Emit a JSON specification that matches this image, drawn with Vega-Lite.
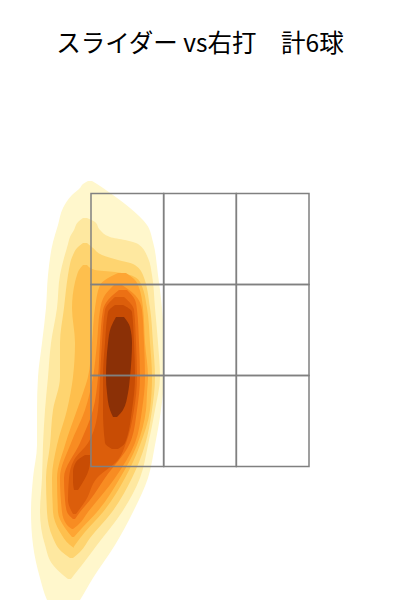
{
  "$schema": "https://vega.github.io/schema/vega-lite/v6.json",
  "width": 400,
  "height": 600,
  "autosize": {"type": "none"},
  "padding": 0,
  "background": "white",
  "config": {"view": {"stroke": null}},
  "title": {
    "text": "スライダー vs右打　計6球",
    "font": "Noto Sans CJK JP",
    "fontSize": 24.5,
    "fontWeight": "normal",
    "color": "#000000",
    "anchor": "middle",
    "frame": "group",
    "baseline": "middle",
    "offset": -43,
    "dy": 26
  },
  "datasets": {
    "density": [
      {"level":"L1","part":"a","y":83.8,"xl":-22.4,"xr":-21.6},
      {"level":"L1","part":"a","y":83.2,"xl":-23.4,"xr":-20.6},
      {"level":"L1","part":"a","y":82.4,"xl":-24,"xr":-19.4},
      {"level":"L1","part":"a","y":81,"xl":-25.6,"xr":-17.4},
      {"level":"L1","part":"a","y":78.4,"xl":-27.4,"xr":-14},
      {"level":"L1","part":"a","y":75,"xl":-28.4,"xr":-10.6},
      {"level":"L1","part":"a","y":71.6,"xl":-29.4,"xr":-9.4},
      {"level":"L1","part":"a","y":65,"xl":-30.4,"xr":-8.4},
      {"level":"L1","part":"a","y":58.4,"xl":-30.8,"xr":-7.6},
      {"level":"L1","part":"a","y":51.4,"xl":-31.6,"xr":-7.2},
      {"level":"L1","part":"a","y":44.6,"xl":-32.4,"xr":-7.2},
      {"level":"L1","part":"a","y":38,"xl":-32.6,"xr":-7.8},
      {"level":"L1","part":"a","y":31,"xl":-32.6,"xr":-9},
      {"level":"L1","part":"a","y":24.4,"xl":-33.4,"xr":-10.4},
      {"level":"L1","part":"a","y":17.6,"xl":-33.8,"xr":-13.4},
      {"level":"L1","part":"a","y":11,"xl":-33.4,"xr":-17},
      {"level":"L1","part":"a","y":4.4,"xl":-32,"xr":-21.4},
      {"level":"L1","part":"a","y":0,"xl":-30.6,"xr":-24},
      {"level":"L1","part":"a","y":-3,"xl":-29,"xr":-26},

      {"level":"L2","part":"a","y":76.4,"xl":-23.4,"xr":-22.6},
      {"level":"L2","part":"a","y":75.6,"xl":-24.4,"xr":-21},
      {"level":"L2","part":"a","y":74,"xl":-25.2,"xr":-20},
      {"level":"L2","part":"a","y":72.6,"xl":-26,"xr":-18},
      {"level":"L2","part":"a","y":72,"xl":-26.2,"xr":-15},
      {"level":"L2","part":"a","y":71.2,"xl":-26.4,"xr":-12.4},
      {"level":"L2","part":"a","y":68.4,"xl":-27.2,"xr":-10.4},
      {"level":"L2","part":"a","y":65,"xl":-28,"xr":-9.6},
      {"level":"L2","part":"a","y":58.4,"xl":-28.6,"xr":-9},
      {"level":"L2","part":"a","y":51.4,"xl":-29.8,"xr":-8.4},
      {"level":"L2","part":"a","y":44.6,"xl":-30.4,"xr":-8},
      {"level":"L2","part":"a","y":38,"xl":-31,"xr":-9},
      {"level":"L2","part":"a","y":31,"xl":-31.4,"xr":-10.4},
      {"level":"L2","part":"a","y":24.4,"xl":-31.6,"xr":-12},
      {"level":"L2","part":"a","y":17.6,"xl":-32,"xr":-15.6},
      {"level":"L2","part":"a","y":11,"xl":-31,"xr":-20.6},
      {"level":"L2","part":"a","y":7,"xl":-29.4,"xr":-23.6},
      {"level":"L2","part":"a","y":5,"xl":-27.4,"xr":-25.2},
      {"level":"L2","part":"a","y":4.2,"xl":-26.4,"xr":-25.8},

      {"level":"L3","part":"a","y":71.4,"xl":-23.4,"xr":-22.6},
      {"level":"L3","part":"a","y":70.4,"xl":-24.6,"xr":-21.4},
      {"level":"L3","part":"a","y":69,"xl":-25.4,"xr":-19.6},
      {"level":"L3","part":"a","y":68,"xl":-25.8,"xr":-16.4},
      {"level":"L3","part":"a","y":67.2,"xl":-26,"xr":-13.4},
      {"level":"L3","part":"a","y":65,"xl":-26.4,"xr":-11.4},
      {"level":"L3","part":"a","y":58.4,"xl":-27.2,"xr":-10},
      {"level":"L3","part":"a","y":51.4,"xl":-28,"xr":-9.4},
      {"level":"L3","part":"a","y":44.6,"xl":-28,"xr":-9},
      {"level":"L3","part":"a","y":38,"xl":-29.4,"xr":-9.6},
      {"level":"L3","part":"a","y":31,"xl":-30,"xr":-11},
      {"level":"L3","part":"a","y":24.4,"xl":-30.8,"xr":-13.6},
      {"level":"L3","part":"a","y":17.6,"xl":-30.6,"xr":-17.6},
      {"level":"L3","part":"a","y":12.4,"xl":-29.4,"xr":-22},
      {"level":"L3","part":"a","y":9.6,"xl":-27.6,"xr":-24},
      {"level":"L3","part":"a","y":8.4,"xl":-26,"xr":-25.4},

      {"level":"L4","part":"a","y":67,"xl":-23.4,"xr":-22.6},
      {"level":"L4","part":"a","y":66,"xl":-24.2,"xr":-21},
      {"level":"L4","part":"a","y":65.6,"xl":-24.4,"xr":-17},
      {"level":"L4","part":"a","y":65,"xl":-24.6,"xr":-14},
      {"level":"L4","part":"a","y":63.6,"xl":-25,"xr":-12},
      {"level":"L4","part":"a","y":58.4,"xl":-25.6,"xr":-10.6},
      {"level":"L4","part":"a","y":51.4,"xl":-25,"xr":-10},
      {"level":"L4","part":"a","y":44.6,"xl":-25.4,"xr":-9.6},
      {"level":"L4","part":"a","y":38,"xl":-26.6,"xr":-10},
      {"level":"L4","part":"a","y":31,"xl":-28.6,"xr":-12},
      {"level":"L4","part":"a","y":24.4,"xl":-29.6,"xr":-15},
      {"level":"L4","part":"a","y":17.6,"xl":-29.4,"xr":-19.4},
      {"level":"L4","part":"a","y":13.6,"xl":-28,"xr":-23},
      {"level":"L4","part":"a","y":11,"xl":-26,"xr":-25},
      {"level":"L4","part":"a","y":10.4,"xl":-25.2,"xr":-25.4},

      {"level":"L5","part":"a","y":65.4,"xl":-16.4,"xr":-14.8},
      {"level":"L5","part":"a","y":64,"xl":-19,"xr":-13},
      {"level":"L5","part":"a","y":63,"xl":-20,"xr":-12.4},
      {"level":"L5","part":"a","y":58.4,"xl":-21,"xr":-11.4},
      {"level":"L5","part":"a","y":51.4,"xl":-21.6,"xr":-11},
      {"level":"L5","part":"a","y":44.6,"xl":-22.4,"xr":-10.4},
      {"level":"L5","part":"a","y":41.4,"xl":-23.4,"xr":-10.6},
      {"level":"L5","part":"a","y":38,"xl":-24.6,"xr":-10.8},
      {"level":"L5","part":"a","y":31,"xl":-27,"xr":-12.6},
      {"level":"L5","part":"a","y":24.4,"xl":-28.6,"xr":-16},
      {"level":"L5","part":"a","y":17.6,"xl":-28.4,"xr":-20.6},
      {"level":"L5","part":"a","y":14.4,"xl":-27,"xr":-23.6},
      {"level":"L5","part":"a","y":12.6,"xl":-25.6,"xr":-25.2},

      {"level":"L6","part":"a","y":63,"xl":-17.2,"xr":-15.6},
      {"level":"L6","part":"a","y":61,"xl":-19,"xr":-13},
      {"level":"L6","part":"a","y":58,"xl":-20,"xr":-11.6},
      {"level":"L6","part":"a","y":51.4,"xl":-20.6,"xr":-11.2},
      {"level":"L6","part":"a","y":44.6,"xl":-21.4,"xr":-11},
      {"level":"L6","part":"a","y":38,"xl":-23,"xr":-11.6},
      {"level":"L6","part":"a","y":31.4,"xl":-25.8,"xr":-13},
      {"level":"L6","part":"a","y":24.4,"xl":-28,"xr":-17},
      {"level":"L6","part":"a","y":17.6,"xl":-27.6,"xr":-22.4},
      {"level":"L6","part":"a","y":15,"xl":-26.6,"xr":-24.4},
      {"level":"L6","part":"a","y":14.2,"xl":-25.6,"xr":-25.4},

      {"level":"L7","part":"a","y":62,"xl":-16.2,"xr":-14.6},
      {"level":"L7","part":"a","y":60,"xl":-18.4,"xr":-13},
      {"level":"L7","part":"a","y":58,"xl":-19.4,"xr":-12.6},
      {"level":"L7","part":"a","y":51.4,"xl":-20,"xr":-12.2},
      {"level":"L7","part":"a","y":44.6,"xl":-20.4,"xr":-12},
      {"level":"L7","part":"a","y":38,"xl":-21.4,"xr":-12.6},
      {"level":"L7","part":"a","y":31.4,"xl":-24,"xr":-14},
      {"level":"L7","part":"a","y":24.4,"xl":-27.2,"xr":-19},
      {"level":"L7","part":"a","y":20,"xl":-27,"xr":-22},
      {"level":"L7","part":"a","y":17.6,"xl":-26.6,"xr":-24},
      {"level":"L7","part":"a","y":16.2,"xl":-25.4,"xr":-25},

      {"level":"L8","part":"a","y":60.6,"xl":-17,"xr":-15.2},
      {"level":"L8","part":"a","y":58,"xl":-19,"xr":-13.2},
      {"level":"L8","part":"a","y":51.4,"xl":-19.6,"xr":-12.8},
      {"level":"L8","part":"a","y":44.6,"xl":-20,"xr":-12.6},
      {"level":"L8","part":"a","y":38,"xl":-20.4,"xr":-13.2},
      {"level":"L8","part":"a","y":31.4,"xl":-22.4,"xr":-14.8},
      {"level":"L8","part":"a","y":28,"xl":-25.2,"xr":-16.4},
      {"level":"L8","part":"a","y":24.4,"xl":-26.2,"xr":-20.6},
      {"level":"L8","part":"a","y":20,"xl":-26.4,"xr":-22.8},
      {"level":"L8","part":"a","y":17.2,"xl":-25.4,"xr":-24.8},

      {"level":"L9","part":"a","y":59,"xl":-17,"xr":-15.4},
      {"level":"L9","part":"a","y":57.6,"xl":-18.4,"xr":-13.6},
      {"level":"L9","part":"a","y":51.4,"xl":-19,"xr":-13.2},
      {"level":"L9","part":"a","y":44.6,"xl":-19.4,"xr":-13},
      {"level":"L9","part":"a","y":38,"xl":-19.4,"xr":-13.6},
      {"level":"L9","part":"a","y":31.4,"xl":-19,"xr":-15},
      {"level":"L9","part":"a","y":30.2,"xl":-17.6,"xr":-16.4},

      {"level":"L9","part":"b","y":29,"xl":-23,"xr":-22},
      {"level":"L9","part":"b","y":27.6,"xl":-24.8,"xr":-22},
      {"level":"L9","part":"b","y":25.6,"xl":-25.4,"xr":-22.4},
      {"level":"L9","part":"b","y":23.6,"xl":-25.4,"xr":-23.4},
      {"level":"L9","part":"b","y":22,"xl":-25.2,"xr":-24.4},

      {"level":"L10","part":"a","y":56.6,"xl":-16.8,"xr":-15.2},
      {"level":"L10","part":"a","y":54.6,"xl":-17.8,"xr":-14},
      {"level":"L10","part":"a","y":51.4,"xl":-18.4,"xr":-13.6},
      {"level":"L10","part":"a","y":44.6,"xl":-18.8,"xr":-14},
      {"level":"L10","part":"a","y":41.4,"xl":-18.6,"xr":-14.4},
      {"level":"L10","part":"a","y":38,"xl":-18,"xr":-15.4},
      {"level":"L10","part":"a","y":36.6,"xl":-17.4,"xr":-16.6}
    ],
    "zone": [
      {"x0":-21.8,"x1":-7.27,"y0":63.1,"y1":81.3},
      {"x0":-7.27,"x1":7.27,"y0":63.1,"y1":81.3},
      {"x0":7.27,"x1":21.8,"y0":63.1,"y1":81.3},
      {"x0":-21.8,"x1":-7.27,"y0":44.9,"y1":63.1},
      {"x0":-7.27,"x1":7.27,"y0":44.9,"y1":63.1},
      {"x0":7.27,"x1":21.8,"y0":44.9,"y1":63.1},
      {"x0":-21.8,"x1":-7.27,"y0":26.7,"y1":44.9},
      {"x0":-7.27,"x1":7.27,"y0":26.7,"y1":44.9},
      {"x0":7.27,"x1":21.8,"y0":26.7,"y1":44.9}
    ]
  },
  "layer": [
    {
      "data": {"name": "density"},
      "mark": {"type": "area", "interpolate": "monotone", "clip": true, "opacity": 1},
      "encoding": {
        "y": {"field": "y", "type": "quantitative", "axis": null,
              "scale": {"domain": [0, 120], "nice": false, "zero": false}},
        "x": {"field": "xl", "type": "quantitative", "axis": null,
              "scale": {"domain": [-40, 40], "nice": false, "zero": false}},
        "x2": {"field": "xr"},
        "color": {"field": "level", "type": "nominal", "legend": null,
                  "scale": {"domain": ["L1","L2","L3","L4","L5","L6","L7","L8","L9","L10"],
                            "range": ["#fff7cc","#fee8a0","#fed470","#febf4d","#fea533","#f88c22","#ec7014","#dc5e0b","#c84c04","#8b3006"]}},
        "detail": {"field": "part", "type": "nominal"}
      }
    },
    {
      "data": {"name": "zone"},
      "mark": {"type": "rect", "fill": null, "fillOpacity": 0, "stroke": "#808080", "strokeWidth": 1.5},
      "encoding": {
        "x": {"field": "x0", "type": "quantitative", "axis": null,
              "scale": {"domain": [-40, 40], "nice": false, "zero": false}},
        "x2": {"field": "x1"},
        "y": {"field": "y0", "type": "quantitative", "axis": null,
              "scale": {"domain": [0, 120], "nice": false, "zero": false}},
        "y2": {"field": "y1"}
      }
    }
  ]
}
